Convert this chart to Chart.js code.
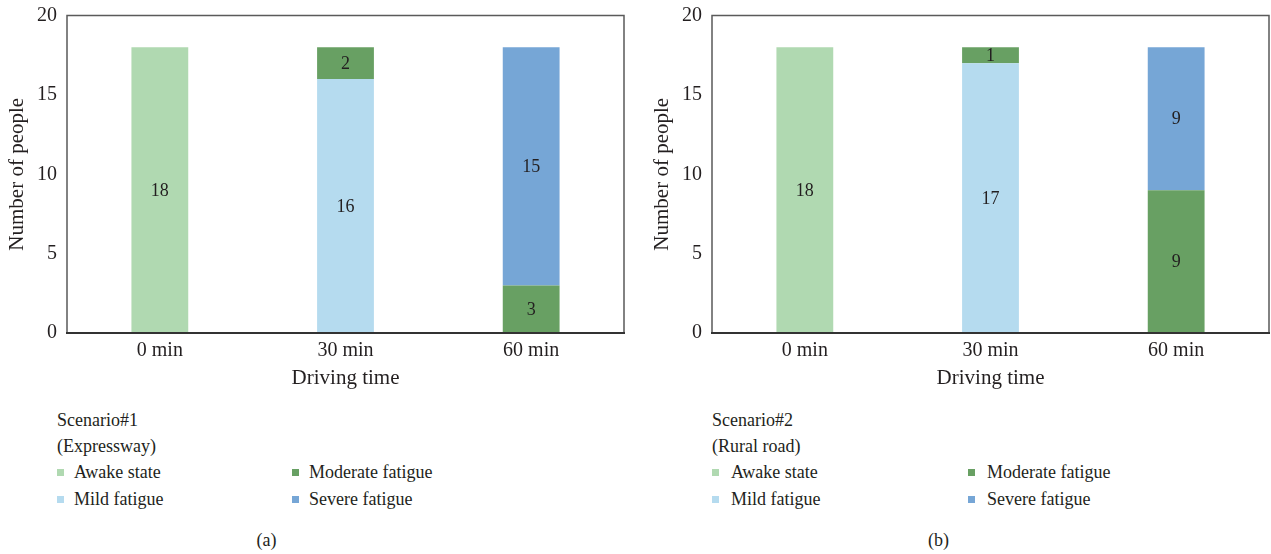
<!DOCTYPE html>
<html><head><meta charset="utf-8">
<script src="https://cdn.jsdelivr.net/npm/chart.js@4.4.1/dist/chart.umd.min.js"></script>
<style>
html,body{margin:0;padding:0;background:#fff;}
body{width:1271px;height:554px;position:relative;overflow:hidden;font-family:"Liberation Serif","Times New Roman",serif;color:#231f20;}
.wrap{position:absolute;top:0;width:626px;height:400px;}
.txt{position:absolute;font-size:18px;line-height:26px;white-space:nowrap;}
.sw{position:absolute;width:7px;height:7px;}
</style></head><body>
<div class="wrap" style="left:0"><canvas id="c1" width="626" height="400"></canvas></div>
<div class="wrap" style="left:645px"><canvas id="c2" width="626" height="400"></canvas></div>
<div id="legends"></div>
<script>
// categories and tick labels
const categories = ['0 min', '30 min', '60 min'];
const yTicks = [0, 5, 10, 15, 20];
const seriesNames = ['Awake state', 'Mild fatigue', 'Moderate fatigue', 'Severe fatigue'];

// Scenario#1 (Expressway)
const expresswayAwake = [18, 0, 0];
const expresswayMild = [0, 16, 0];
const expresswayModerate = [0, 2, 3];
const expresswaySevere = [0, 0, 15];

// Scenario#2 (Rural road)
const ruralAwake = [18, 0, 0];
const ruralMild = [0, 17, 0];
const ruralModerate = [0, 1, 9];
const ruralSevere = [0, 0, 9];

const seriesColors = ['#b0d9b1', '#b5dbef', '#68a063', '#76a6d6'];
const TEXT = '#231f20';
const FONT = '"Liberation Serif","Times New Roman",serif';

// value labels centred in each stacked segment
const segmentLabels = {
  id: 'segmentLabels',
  afterDatasetsDraw(chart) {
    const ctx = chart.ctx;
    ctx.save();
    ctx.font = '18px ' + FONT;
    ctx.fillStyle = TEXT;
    ctx.textAlign = 'center';
    ctx.textBaseline = 'middle';
    chart.data.datasets.forEach((ds, di) => {
      const meta = chart.getDatasetMeta(di);
      meta.data.forEach((el, i) => {
        const v = ds.data[i];
        if (!v) return;
        ctx.fillText(String(v), el.x, (el.y + el.base) / 2 + 1);
      });
    });
    ctx.restore();
  }
};

// frame around the plot area
const plotFrame = {
  id: 'plotFrame',
  afterDraw(chart) {
    const {left, top, right, bottom} = chart.chartArea;
    const ctx = chart.ctx;
    ctx.save();
    ctx.lineWidth = 1.5;
    ctx.strokeStyle = '#5a5a5a';
    ctx.beginPath();
    ctx.moveTo(left, bottom);
    ctx.lineTo(left, top);
    ctx.lineTo(right, top);
    ctx.lineTo(right, bottom);
    ctx.stroke();
    ctx.lineWidth = 2;
    ctx.strokeStyle = '#333';
    ctx.beginPath();
    ctx.moveTo(left - 1, bottom);
    ctx.lineTo(right + 1, bottom);
    ctx.stroke();
    ctx.restore();
  }
};

function noLabelPadding(s) {
  s.paddingTop = 0; s.paddingBottom = 0; s.paddingLeft = 0; s.paddingRight = 0;
}

function makeChart(id, series) {
  return new Chart(document.getElementById(id), {
    type: 'bar',
    data: {
      labels: categories,
      datasets: series.map((d, i) => ({
        label: seriesNames[i],
        data: d,
        backgroundColor: seriesColors[i],
        borderWidth: 0,
        categoryPercentage: 1,
        barPercentage: 0.306
      }))
    },
    options: {
      responsive: false,
      devicePixelRatio: 1,
      animation: false,
      layout: {padding: {top: 15.5, right: 2, left: 0, bottom: 0}},
      plugins: {legend: {display: false}, tooltip: {enabled: false}},
      scales: {
        x: {
          stacked: true,
          grid: {display: false, drawTicks: false},
          border: {display: false},
          ticks: {color: TEXT, font: {family: FONT, size: 20}, padding: 6, maxRotation: 0},
          title: {display: true, text: 'Driving time', color: TEXT, font: {family: FONT, size: 21}, padding: {top: 0, bottom: 9}},
          afterFit(s) { s.height = 67; noLabelPadding(s); }
        },
        y: {
          stacked: true,
          min: 0, max: 20,
          grid: {display: false, drawTicks: false},
          border: {display: false},
          ticks: {color: TEXT, font: {family: FONT, size: 20}, padding: 10},
          afterBuildTicks(s) { s.ticks = yTicks.map(v => ({value: v})); },
          title: {display: true, text: 'Number of people', color: TEXT, font: {family: FONT, size: 21}, padding: {top: 5, bottom: 0}},
          afterFit(s) { s.width = 67; noLabelPadding(s); }
        }
      }
    },
    plugins: [segmentLabels, plotFrame]
  });
}

makeChart('c1', [expresswayAwake, expresswayMild, expresswayModerate, expresswaySevere]);
makeChart('c2', [ruralAwake, ruralMild, ruralModerate, ruralSevere]);

// legends and panel captions
const panels = [
  {title: ['Scenario#1', '(Expressway)'], x: 57, col2: 292, gap: 17, caption: '(a)', capX: 266.5},
  {title: ['Scenario#2', '(Rural road)'], x: 712, col2: 968, gap: 19, caption: '(b)', capX: 938.5}
];
const host = document.getElementById('legends');
function addText(str, left, centerY, extra) {
  const d = document.createElement('div');
  d.className = 'txt';
  d.textContent = str;
  d.style.left = left + 'px';
  d.style.top = (centerY - 13) + 'px';
  if (extra) Object.assign(d.style, extra);
  host.appendChild(d);
  return d;
}
panels.forEach(p => {
  addText(p.title[0], p.x, 420);
  addText(p.title[1], p.x, 446);
  seriesNames.forEach((name, i) => {
    const col = i >= 2 ? 1 : 0;
    const row = i % 2;
    const bx = col ? p.col2 : p.x;
    const cy = 472 + row * 26.5;
    const sw = document.createElement('div');
    sw.className = 'sw';
    sw.style.background = seriesColors[i];
    sw.style.left = bx + 'px';
    sw.style.top = (cy - 3) + 'px';
    host.appendChild(sw);
    addText(name, bx + p.gap, cy);
  });
  addText(p.caption, p.capX, 540, {transform: 'translateX(-50%)'});
});
</script>
</body></html>
